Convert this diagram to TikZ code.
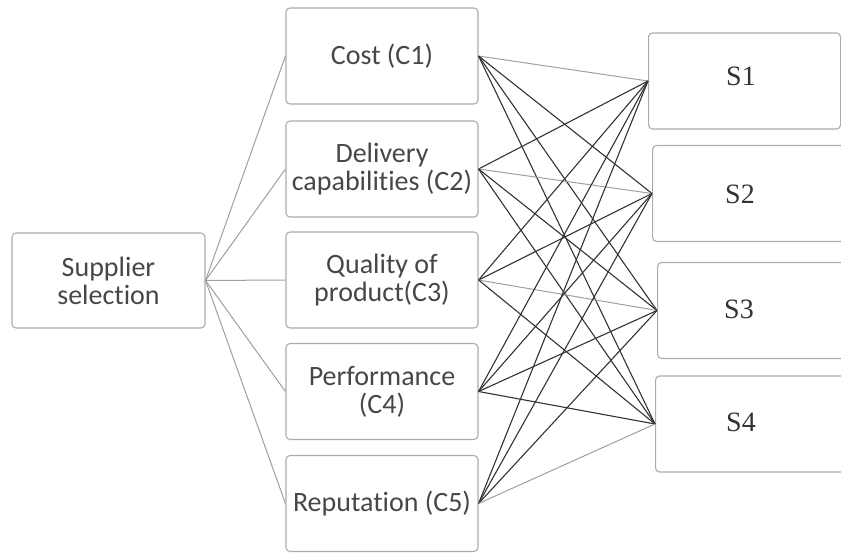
\documentclass[tikz,border=0pt]{standalone}
\usepackage{fontspec}
\usepackage{xcolor}
\usepackage{tikz}
\setmainfont{Carlito}[Ligatures=NoCommon]
\newfontfamily\timesfont{Liberation Serif}

\begin{document}
\begin{tikzpicture}[x=1pt,y=-1pt,%
% common options for the boxes:
block/.style = {draw=gray!65, rounded corners=4pt, align=center, line width=1.1pt,
            minimum width=192pt, minimum height=96pt, inner sep=0, text=black!72,
            font=\fontsize{28}{28}\selectfont},
% common options for the supplier boxes and their labels:
sbox/.style = {block, anchor=west, minimum width=192pt},
slab/.style = {text=black!80, inner sep=0, font=\timesfont\fontsize{28}{28}\selectfont},
% common options for the links:
link/.style = {draw=black!80, line width=1.1pt},
fan/.style = {draw=gray!75, line width=1pt}]
\useasboundingbox (0,0) rectangle (841,554);
\node[block,minimum width=193pt,minimum height=95pt] (SS) at (108.5,280.5) {Supplier\\selection};
\node[block] (C1) at (382,56) {Cost (C1)};
\node[block] (C2) at (382,169) {Delivery\\capabilities (C2)};
\node[block] (C3) at (382,280) {Quality of\\product(C3)};
\node[block] (C4) at (382,391.5) {Performance\\(C4)};
\node[block] (C5) at (382,503.5) {Reputation (C5)};
\node[sbox] (S1) at (648,81) {};
\node[sbox] (S2) at (652,193.5) {};
\node[sbox] (S3) at (657,310.5) {};
\node[sbox] (S4) at (655,424) {};
\node[slab] (L1) at (741,76) {S1};
\node[slab] (L2) at (740,194) {S2};
\node[slab] (L3) at (739,309) {S3};
\node[slab] (L4) at (741,422) {S4};
\draw[fan] (SS.east) to (C1.west);
\draw[fan] (SS.east) to (C2.west);
\draw[fan] (SS.east) to (C3.west);
\draw[fan] (SS.east) to (C4.west);
\draw[fan] (SS.east) to (C5.west);
\draw[fan] (C1.east) to (S1.west);
\draw[link] (C1.east) to (S2.west);
\draw[link] (C1.east) to (S3.west);
\draw[link] (C1.east) to (S4.west);
\draw[link] (C2.east) to (S1.west);
\draw[fan] (C2.east) to (S2.west);
\draw[link] (C2.east) to (S3.west);
\draw[link] (C2.east) to (S4.west);
\draw[link] (C3.east) to (S1.west);
\draw[link] (C3.east) to (S2.west);
\draw[fan] (C3.east) to (S3.west);
\draw[link] (C3.east) to (S4.west);
\draw[link] (C4.east) to (S1.west);
\draw[link] (C4.east) to (S2.west);
\draw[link] (C4.east) to (S3.west);
\draw[link] (C4.east) to (S4.west);
\draw[link] (C5.east) to (S1.west);
\draw[link] (C5.east) to (S2.west);
\draw[link] (C5.east) to (S3.west);
\draw[fan] (C5.east) to (S4.west);
\end{tikzpicture}
\end{document}
